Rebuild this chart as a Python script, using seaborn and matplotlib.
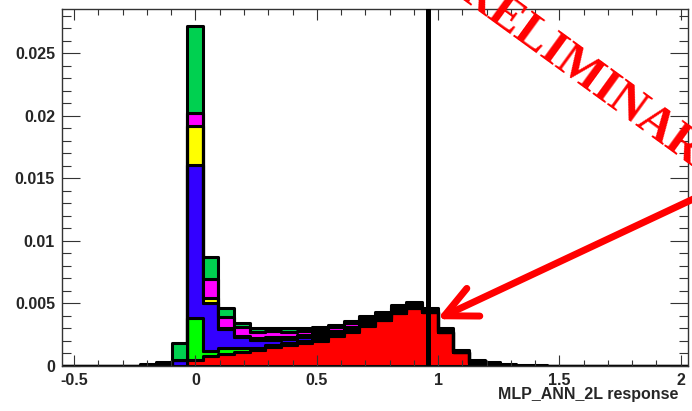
import numpy as np
import pandas as pd
import matplotlib
matplotlib.use("Agg")
import matplotlib.pyplot as plt
from matplotlib.ticker import MultipleLocator
import seaborn as sns

# Binning of the classifier output
x_lo, x_hi, n_bins = -0.55, 2.03, 40
cut_value = 0.957

# Per-bin normalised yields of each stacked sample (bottom to top)
red = [0, 0, 0, 0, 0, 0, 0, 0, 0.00045, 0.0008, 0.00095, 0.0011, 0.00125, 0.0015,
       0.00165, 0.0018, 0.0020, 0.0024, 0.0027, 0.0032, 0.0037, 0.0042, 0.0046,
       0.0043, 0.0027, 0.0011, 0.0002, 0.0001, 0, 0, 0, 0, 0, 0, 0, 0, 0, 0, 0, 0]
lime = [0, 0, 0, 0, 0, 0, 0, 0, 0.0034, 0.0004, 0.0005, 0.0003, 0.0002, 0.0002,
        0.0002, 0.0002, 0.0002, 0.0001, 0.0001, 0.0001, 0, 0, 0, 0, 0, 0, 0, 0, 0, 0,
        0, 0, 0, 0, 0, 0, 0, 0, 0, 0]
blue = [0, 0, 0, 0, 0, 0, 0.0001, 0.0005, 0.0122, 0.0038, 0.0015, 0.0009, 0.0006,
        0.0004, 0.0003, 0.0003, 0.0002, 0.0002, 0.0002, 0.0002, 0.0001, 0.0001,
        0.0001, 0.00005, 0, 0, 0, 0, 0, 0, 0, 0, 0, 0, 0, 0, 0, 0, 0, 0]
yellow = [0, 0, 0, 0, 0, 0, 0, 0, 0.0031, 0.00045, 0.0001, 0.0001, 0.0002, 0.0002,
          0.0002, 0.0002, 0.0002, 0.0001, 0.0001, 0.0001, 0.0001, 0.0001, 0.00005,
          0, 0, 0, 0, 0, 0, 0, 0, 0, 0, 0, 0, 0, 0, 0, 0, 0]
magenta = [0, 0, 0, 0, 0, 0, 0, 0, 0.0011, 0.0015, 0.0009, 0.0007, 0.0005, 0.0005,
           0.0004, 0.0003, 0.0003, 0.0003, 0.0003, 0.0002, 0.0002, 0.0002, 0.0002,
           0.0001, 0.0001, 0, 0.0001, 0, 0.00005, 0, 0, 0, 0, 0, 0, 0, 0, 0, 0, 0]
green = [0, 0, 0, 0, 0, 0.00015, 0.00025, 0.0013, 0.0069, 0.0018, 0.0007, 0.0003,
         0.00025, 0.00025, 0.00025, 0.00025, 0.00025, 0.0002, 0.0002, 0.0002, 0.0002,
         0.00025, 0.00015, 0.00015, 0.0002, 0.0002, 0.0002, 0.0002, 0.0001, 0.0001,
         0.00005, 0, 0, 0, 0, 0, 0, 0, 0, 0]

x_ticks = [-0.5, 0, 0.5, 1, 1.5, 2]
x_tick_labels = ["-0.5", "0", "0.5", "1", "1.5", "2"]
y_ticks = [0, 0.005, 0.01, 0.015, 0.02, 0.025]
y_tick_labels = ["0", "0.005", "0.01", "0.015", "0.02", "0.025"]
x_title = "MLP_ANN_2L response"
stamp = "PRELIMINARY"

samples = {"green": green, "magenta": magenta, "yellow": yellow,
           "blue": blue, "lime": lime, "red": red}
palette = {"green": "#00d050", "magenta": "#ff00ff", "yellow": "#ffff00",
           "blue": "#3300ff", "lime": "#00ff00", "red": "#ff0000"}

edges = np.linspace(x_lo, x_hi, n_bins + 1)
centers = 0.5 * (edges[:-1] + edges[1:])
frames = [pd.DataFrame({"x": centers, "w": vals, "sample": name})
          for name, vals in samples.items()]
df = pd.concat(frames, ignore_index=True)

sns.set_theme(style="ticks")
plt.rcParams["font.family"] = ["Liberation Sans", "DejaVu Sans"]

fig = plt.figure(figsize=(6.92, 4.11), dpi=100)
ax = fig.add_axes([62 / 692, 1 - 366 / 411, 626 / 692, 357 / 411])

# seaborn stacks the last hue level at the bottom
sns.histplot(data=df, x="x", weights="w", hue="sample",
             hue_order=list(samples.keys()), palette=palette,
             bins=n_bins, binrange=(x_lo, x_hi), multiple="stack",
             element="step", fill=True, alpha=1, edgecolor="black",
             linewidth=2.2, legend=False, ax=ax)

ax.axvline(cut_value, color="black", lw=3.6, zorder=5)

ax.set_xlim(x_lo, x_hi)
ax.set_ylim(0, 0.02854)
ax.set_xlabel("")
ax.set_ylabel("")
ax.set_xticks(x_ticks)
ax.set_xticklabels(x_tick_labels, fontweight="bold", fontsize=11.5)
ax.set_yticks(y_ticks)
ax.set_yticklabels(y_tick_labels, fontweight="bold", fontsize=11.5)
ax.xaxis.set_minor_locator(MultipleLocator(0.1))
ax.yaxis.set_minor_locator(MultipleLocator(0.001))
ax.tick_params(axis="both", which="both", direction="in", top=True, right=True,
               width=0.8, color="#333333")
ax.tick_params(axis="x", which="major", length=8, pad=5)
ax.tick_params(axis="x", which="minor", length=4)
ax.tick_params(axis="y", which="major", length=13, pad=5)
ax.tick_params(axis="y", which="minor", length=6.5)
for sp in ax.spines.values():
    sp.set_color("#333333")
    sp.set_linewidth(1.0)
ax.set_axisbelow(False)

fig.text(678 / 692, 1 - 394 / 411, x_title, ha="right", va="center",
         fontsize=11.5, fontweight="bold")

# Pointer to the cut position
ax.annotate("", xy=(0.996, 0.00374), xytext=(2.09, 0.01370),
            xycoords="data", textcoords="data", annotation_clip=False,
            arrowprops=dict(arrowstyle="->,head_length=2.3,head_width=1.1",
                            color="red", lw=5.0, capstyle="round",
                            joinstyle="round", shrinkA=0, shrinkB=0,
                            mutation_scale=10),
            zorder=6)

fig.text(576 / 692, 1 - 82 / 411, stamp, color="red", fontsize=35,
         family=["Liberation Serif", "DejaVu Serif"], fontweight="bold",
         rotation=-36, rotation_mode="anchor", ha="center", va="baseline",
         zorder=10)

fig.savefig("out.png", dpi=100)
